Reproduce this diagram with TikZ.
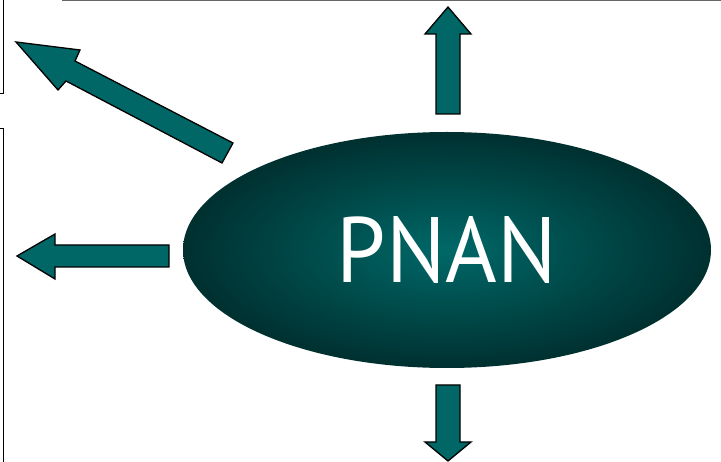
\documentclass[tikz,border=0pt]{standalone}
\usepackage{fontspec}
\setmainfont{PT Sans}
\usetikzlibrary{shapes.geometric}
\definecolor{tealfill}{RGB}{0,102,102}
\definecolor{tealin}{RGB}{0,104,104}
\definecolor{tealout}{RGB}{0,48,48}
\tikzset{
  blockarrow/.style={fill=tealfill,draw=black,line width=1.3pt,line join=miter},
  frameline/.style={draw=black,line width=0.9pt},
}
\begin{document}
\begin{tikzpicture}[x=1pt,y=-1pt]
\useasboundingbox (0,0) rectangle (721,462);
\clip (0,0) rectangle (721,462);
% partial frames
\draw[draw=black!60,line width=1.2pt] (62,0.8) -- (721,0.8);
\draw[frameline] (-5,-5) rectangle (3,93);
\draw[frameline] (-5,128) rectangle (3,480);
% central ellipse
\node[ellipse,minimum width=528pt,minimum height=236pt,inner sep=0pt,
      shading=radial,inner color=tealin,outer color=tealout] (pnan) at (447,250) {};
\node[text=white,inner sep=0pt] (pnantext) at (447,250) {\resizebox{220pt}{66pt}{PNAN}};
% arrows
\path[blockarrow] (16,42) -- (80,50) -- (75,61) -- (233,143) -- (222,163) -- (66,81) -- (58,90) -- cycle;
\path[blockarrow] (448,7) -- (471,34) -- (460,34) -- (460,114) -- (436,114) -- (436,34) -- (425,34) -- cycle;
\path[blockarrow] (17,256) -- (55,234) -- (55,245) -- (169,245) -- (169,267) -- (55,267) -- (55,279) -- cycle;
\path[blockarrow] (448,461) -- (471,442) -- (460,442) -- (460,385) -- (436,385) -- (436,442) -- (425,442) -- cycle;
\end{tikzpicture}
\end{document}
